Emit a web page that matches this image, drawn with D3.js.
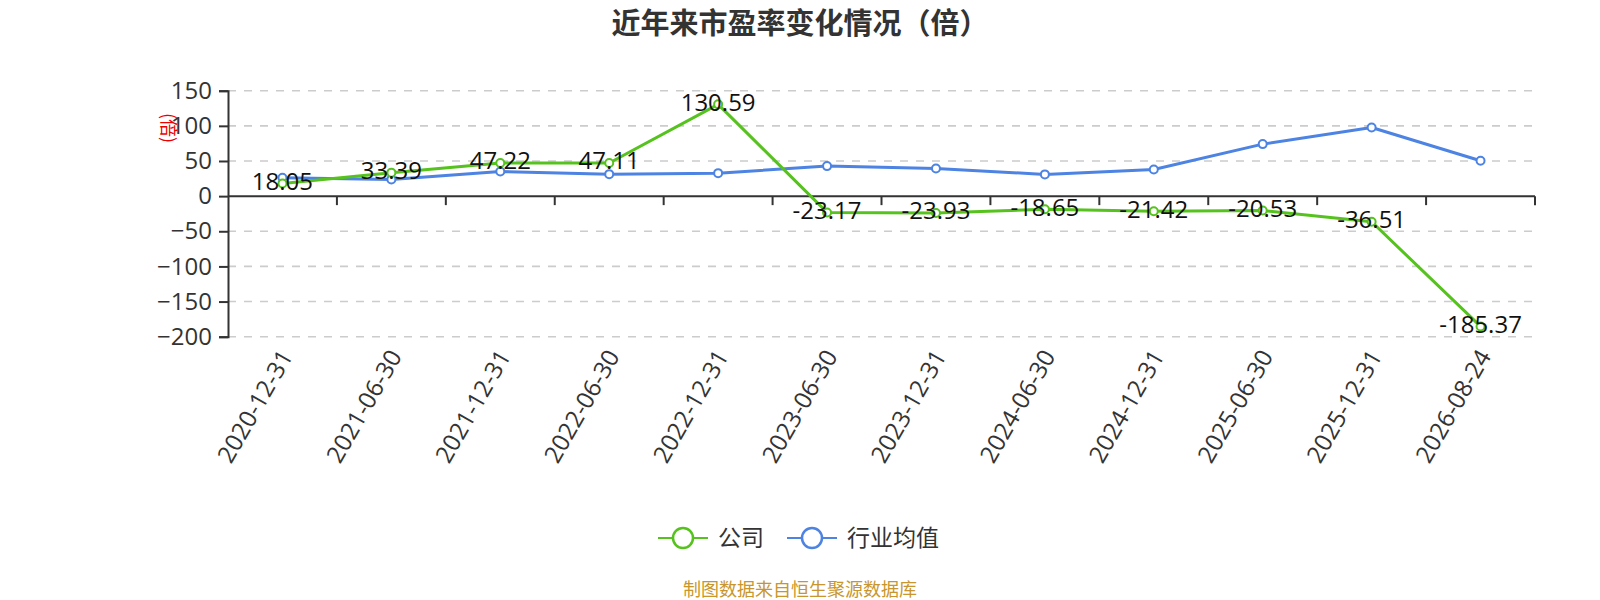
<!DOCTYPE html>
<html>
<head>
<meta charset="utf-8">
<script src="https://cdn.jsdelivr.net/npm/d3@7"></script>
<style>
  body { margin: 0; background: #fff; }
  svg text { font-family: "Open Sans", "Noto Sans CJK SC", sans-serif; }
  svg text.cjk { font-family: "Noto Sans CJK SC", sans-serif; }
</style>
</head>
<body>
<div class="chart"></div>
<script>
"use strict";

// Data
var dates = ['2020-12-31', '2021-06-30', '2021-12-31', '2022-06-30', '2022-12-31', '2023-06-30',
    '2023-12-31', '2024-06-30', '2024-12-31', '2025-06-30', '2025-12-31', '2026-08-24']
var companyPE = [18.05, 33.39, 47.22, 47.11, 130.59, -23.17, -23.93, -18.65, -21.42, -20.53, -36.51, -185.37]
var industryPE = [26, 23.8, 35, 31.3, 32.7, 42.7, 39.4, 30.9, 38, 74, 97.7, 50.3]
var yTicks = [150, 100, 50, 0, -50, -100, -150, -200]
var seriesNames = ['公司', '行业均值']

var width = 1600
var height = 600
var green = '#56c21e'
var blue = '#4d83e2'

var svg = d3.select('div.chart').append('svg')
    .attr('width', width)
    .attr('height', height)

var x = d3.scaleBand()
    .domain(dates)
    .range([228, 1535])

var y = d3.scaleLinear()
    .domain([-200, 150])
    .range([336.7, 90.7])

var cx = d => x(d) + x.bandwidth() / 2

// Title
svg.append('text')
    .attr('class', 'cjk')
    .text('近年来市盈率变化情况（倍）')
    .attr('x', 800)
    .attr('y', 24)
    .attr('dy', '0.35em')
    .attr('text-anchor', 'middle')
    .attr('font-size', 29)
    .attr('font-weight', 'bold')
    .attr('fill', '#333')

// Grid lines
svg.append('g')
    .selectAll('line')
    .data(yTicks.filter(d => d !== 0))
    .enter()
    .append('line')
    .attr('x1', 228)
    .attr('x2', 1535)
    .attr('y1', d => y(d))
    .attr('y2', d => y(d))
    .attr('stroke', '#ccc')
    .attr('stroke-width', 1.6)
    .attr('stroke-dasharray', '8,8')

// Y axis
var yAxis = svg.append('g')
    .attr('transform', 'translate(228,0)')
    .call(d3.axisLeft(y).tickValues(yTicks).tickSize(9).tickPadding(7))
yAxis.select('.domain').attr('stroke', '#333').attr('stroke-width', 2)
yAxis.selectAll('.tick line').attr('stroke', '#333').attr('stroke-width', 2)
yAxis.selectAll('.tick text')
    .attr('font-size', 24)
    .attr('fill', '#333')
    .attr('font-family', '"Open Sans", sans-serif')

// Y axis name
svg.append('text')
    .attr('class', 'cjk')
    .text('(倍)')
    .attr('transform', 'translate(168,128) rotate(90)')
    .attr('text-anchor', 'middle')
    .attr('dy', '0.35em')
    .attr('font-size', 18)
    .attr('fill', '#e00')

// X axis on the zero line
var xAxisLine = svg.append('g')
svg.append('line')
    .attr('x1', 228)
    .attr('x2', 1535)
    .attr('y1', y(0))
    .attr('y2', y(0))
    .attr('stroke', '#333')
    .attr('stroke-width', 2)
xAxisLine.selectAll('line')
    .data(dates.slice(1).concat(['end']))
    .enter()
    .append('line')
    .attr('x1', (d, i) => i < dates.length - 1 ? x(d) : x.range()[1])
    .attr('x2', (d, i) => i < dates.length - 1 ? x(d) : x.range()[1])
    .attr('y1', y(0))
    .attr('y2', y(0) + 9)
    .attr('stroke', '#333')
    .attr('stroke-width', 2)

// X labels below the plot, rotated
svg.append('g')
    .selectAll('text')
    .data(dates)
    .enter()
    .append('text')
    .text(d => d)
    .attr('transform', d => 'translate(' + (cx(d) + 4) + ',352) rotate(-60)')
    .attr('text-anchor', 'end')
    .attr('dy', '0.35em')
    .attr('font-size', 24)
    .attr('fill', '#333')

// Lines
var line = d3.line()
    .x(d => cx(d.date))
    .y(d => y(d.v))

var series = [
    { name: seriesNames[1], color: blue, values: industryPE },
    { name: seriesNames[0], color: green, values: companyPE }
]

series.forEach(function (s) {
    var pts = dates.map((d, i) => ({ date: d, v: s.values[i] }))
    svg.append('path')
        .datum(pts)
        .attr('d', line)
        .attr('fill', 'none')
        .attr('stroke', s.color)
        .attr('stroke-width', 3)
        .attr('stroke-linejoin', 'round')
    svg.append('g')
        .selectAll('circle')
        .data(pts)
        .enter()
        .append('circle')
        .attr('cx', d => cx(d.date))
        .attr('cy', d => y(d.v))
        .attr('r', 4)
        .attr('fill', '#fff')
        .attr('stroke', s.color)
        .attr('stroke-width', 2)
})

// Value labels for the company series
svg.append('g')
    .selectAll('text')
    .data(companyPE)
    .enter()
    .append('text')
    .text(d => d.toFixed(2))
    .attr('x', (d, i) => cx(dates[i]))
    .attr('y', d => y(d) - 2)
    .attr('dy', '0.35em')
    .attr('text-anchor', 'middle')
    .attr('font-size', 24)
    .attr('fill', '#111')

// Legend
var legend = svg.append('g')
var legendItems = [
    { name: seriesNames[0], color: green, x0: 658 },
    { name: seriesNames[1], color: blue, x0: 787 }
]
legendItems.forEach(function (item) {
    legend.append('line')
        .attr('x1', item.x0)
        .attr('x2', item.x0 + 50)
        .attr('y1', 538)
        .attr('y2', 538)
        .attr('stroke', item.color)
        .attr('stroke-width', 2)
    legend.append('circle')
        .attr('cx', item.x0 + 25)
        .attr('cy', 538)
        .attr('r', 10)
        .attr('fill', '#fff')
        .attr('stroke', item.color)
        .attr('stroke-width', 2.5)
    legend.append('text')
        .attr('class', 'cjk')
        .text(item.name)
        .attr('x', item.x0 + 60)
        .attr('y', 538)
        .attr('dy', '0.35em')
        .attr('font-size', 23)
        .attr('fill', '#333')
})

// Source note
svg.append('text')
    .attr('class', 'cjk')
    .text('制图数据来自恒生聚源数据库')
    .attr('x', 800)
    .attr('y', 590)
    .attr('dy', '0.35em')
    .attr('text-anchor', 'middle')
    .attr('font-size', 18)
    .attr('fill', '#c8962c')
</script>
</body>
</html>
